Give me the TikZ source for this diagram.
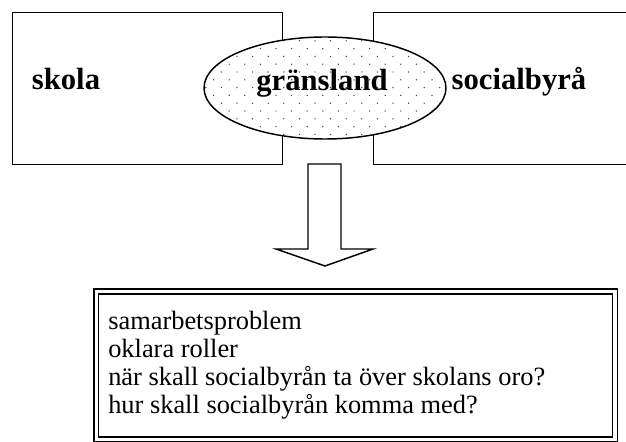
\documentclass[tikz,border=0pt]{standalone}
\usepackage{fontspec}
\setmainfont{Liberation Serif}
\usetikzlibrary{shapes.geometric}
\begin{document}
\begin{tikzpicture}[x=0.75pt,y=-0.75pt,
  frame/.style={draw, line width=1.1pt, inner sep=0pt, minimum width=202.5pt, minimum height=114pt, anchor=north west},
  biglabel/.style={font=\bfseries\fontsize{23}{27}\selectfont, anchor=base, inner sep=0pt},
  bodytext/.style={font=\fontsize{19.8}{21}\selectfont, anchor=base west, inner sep=0pt},
  dotfill/.style={fill=black!75}]
\useasboundingbox (0,0) rectangle (626,442);
\clip (0,0) rectangle (626,442);
% two boxes
\node[frame] (skolabox) at (12,12) {};
\node[frame] (socbox) at (373,12) {};
% border-land ellipse
\fill[white] (325,88) ellipse (90.75pt and 38.25pt);
\begin{scope}
  \clip (325,88) ellipse (90.75pt and 38.25pt);
  \foreach \r in {0,...,14}{
    \pgfmathsetmacro{\yy}{33+\r*7.8}
    \pgfmathsetmacro{\off}{mod(\r,2)*7.8}
    \foreach \c in {0,...,16}{
      \fill[dotfill] ({198+\off+\c*15.6},\yy) circle (0.55pt);
    }
  }
\end{scope}
\node[ellipse, draw, line width=1.1pt, inner sep=0pt, minimum width=181.5pt, minimum height=76.5pt] (grans) at (325,88) {};
\node[biglabel] (skola) at (66,90) {skola};
\node[biglabel] (granstext) at (322,91) {gränsland};
\node[biglabel] (socialbyra) at (519,90) {socialbyrå};
% block arrow
\draw[line width=1.1pt, fill=white, line join=miter]
  (308,164) -- (308,249) -- (276,249) -- (325,266) -- (373,249) -- (341,249) -- (341,164) -- cycle;
% result box
\node[draw, double, line width=1.1pt, double distance=2.6pt, inner sep=0pt,
      minimum width=389.1pt, minimum height=111.1pt, anchor=north west] (issues) at (95.5,290.7) {};
\node[bodytext] (l1) at (108,330) {samarbetsproblem};
\node[bodytext] (l2) at (108,358) {oklara roller};
\node[bodytext] (l3) at (108,386) {när skall socialbyrån ta över skolans oro?};
\node[bodytext] (l4) at (108,414) {hur skall socialbyrån komma med?};
\end{tikzpicture}
\end{document}
